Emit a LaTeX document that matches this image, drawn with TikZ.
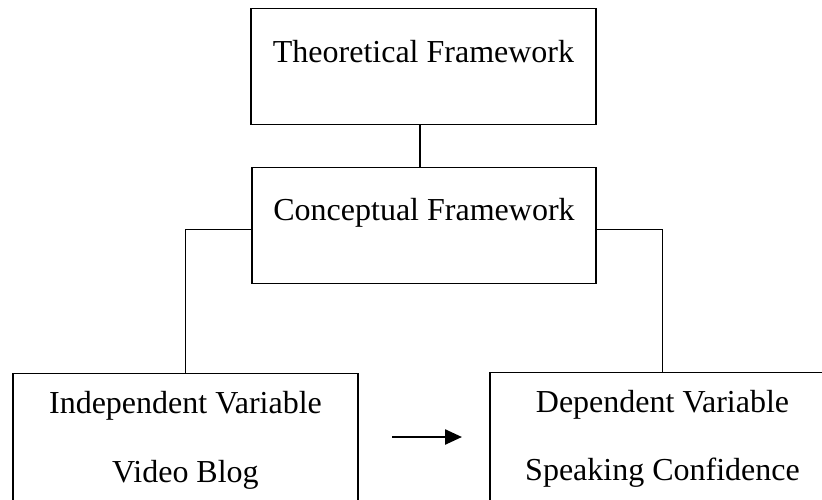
\documentclass[tikz,border=0pt]{standalone}
\usepackage{fontspec}
\setmainfont{Liberation Serif}
\usetikzlibrary{arrows.meta, positioning}

\begin{document}
\begin{tikzpicture}[x=1pt, y=-1pt,
    frame/.style={draw=black, line width=1.4pt, inner sep=0pt, anchor=north},
    link/.style={line width=1.4pt},
    label txt/.style={font=\fontsize{32}{38}\selectfont, anchor=base, inner sep=0pt}]
  % canvas
  \useasboundingbox (0,0) rectangle (822,499);
  \clip (0,0) rectangle (822,499);

  % boxes
  \node[frame, minimum width=345pt, minimum height=116pt] (theory) at (423.5, 8) {};
  \node[frame, minimum width=344pt, minimum height=116pt] (concept) at (424, 167) {};
  \node[frame, minimum width=345pt, minimum height=150pt] (indep) at (185.5, 373) {};
  \node[frame, minimum width=345pt, minimum height=150pt] (dep) at (662.5, 372) {};

  % texts
  \node[label txt] (theoryT) at ([yshift=-54pt]theory.north) {Theoretical Framework};
  \node[label txt] (conceptT) at ([yshift=-53pt]concept.north) {Conceptual Framework};
  \node[label txt] (indepA) at ([yshift=-40pt]indep.north) {Independent Variable};
  \node[label txt] (indepB) at ([yshift=-109pt]indep.north) {Video Blog};
  \node[label txt] (depA) at ([yshift=-40pt]dep.north) {Dependent Variable};
  \node[label txt] (depB) at ([yshift=-108pt]dep.north) {Speaking Confidence};

  % connectors
  \draw[link] ([xshift=-3.5pt]theory.south) -- ([xshift=-4pt]concept.north);
  \draw[link] ([yshift=-4pt]concept.west) -| (indep.north);
  \draw[link] ([yshift=-4pt]concept.east) -| (dep.north);

  % arrow
  \coordinate (arrS) at (392, 437);
  \coordinate (arrE) at (462, 437);
  \draw[line width=2.4pt, -{Triangle[length=17pt, width=15pt]}] (arrS) -- (arrE);
\end{tikzpicture}
\end{document}
